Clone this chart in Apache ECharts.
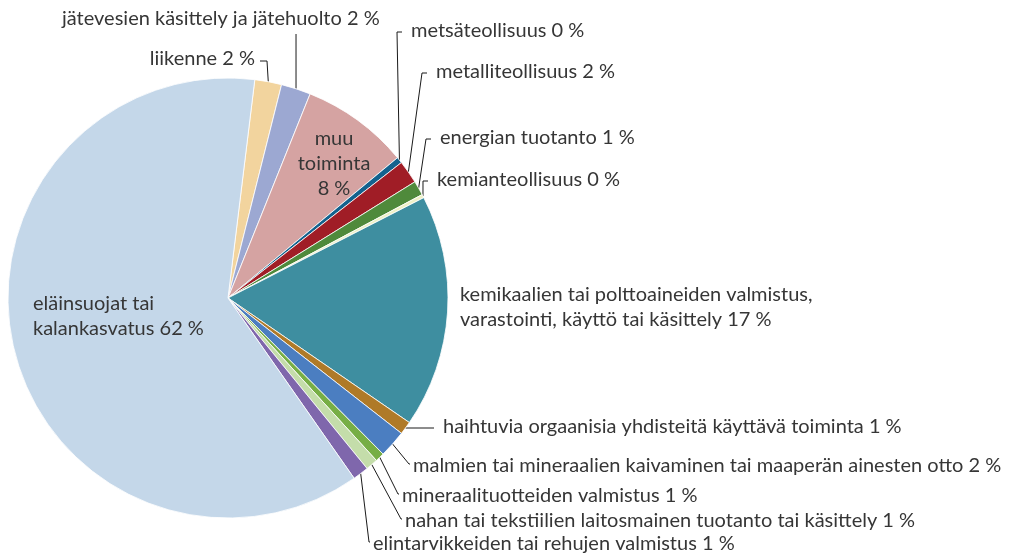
<!DOCTYPE html>
<html><head><meta charset="utf-8">
<script src="https://cdn.jsdelivr.net/npm/echarts@6/dist/echarts.min.js"></script>
<style>html,body{margin:0;padding:0;background:#fff}#c{width:1009px;height:557px}</style>
</head><body><div id="c"></div>
<script>
// Data (share of all facilities, %), clockwise order starting just right of 12 o'clock
const categories = [
  'liikenne',
  'jätevesien käsittely ja jätehuolto',
  'muu\ntoiminta',
  'metsäteollisuus',
  'metalliteollisuus',
  'energian tuotanto',
  'kemianteollisuus',
  'kemikaalien tai polttoaineiden valmistus,\nvarastointi, käyttö tai käsittely',
  'haihtuvia orgaanisia yhdisteitä käyttävä toiminta',
  'malmien tai mineraalien kaivaminen tai maaperän ainesten otto',
  'mineraalituotteiden valmistus',
  'nahan tai tekstiilien laitosmainen tuotanto tai käsittely',
  'elintarvikkeiden tai rehujen valmistus',
  'eläinsuojat tai\nkalankasvatus'
];
const shares = [1.97, 2.17, 7.9, 0.45, 1.7, 1.06, 0.25, 17.1, 0.97, 2.0, 0.67, 0.89, 1.17, 61.6];

// Styles and label layout (kept separate from data)
const colors = ['#F2D49E','#9CA8D2','#D5A3A2','#13628E','#A01D26','#4F8A3B','#EEF1C6',
                '#3E8EA0','#AF7A28','#4B7EC1','#77AE45','#C4DDAA','#7F67AC','#C4D7E9'];
const labelPlaces = [
  {x:255, y:59,  align:'right',  line:'right',  sep:' '},
  {x:62,  y:19,  align:'left',   line:'below',  sep:' '},
  {x:334, y:164, align:'center', line:'none',   sep:'\n'},
  {x:411, y:31,  align:'left',   line:'left',   sep:' '},
  {x:436, y:72,  align:'left',   line:'left',   sep:' '},
  {x:440, y:138, align:'left',   line:'left',   sep:' '},
  {x:437, y:180, align:'left',   line:'left',   sep:' '},
  {x:460, y:307, align:'left',   line:'none',   sep:' '},
  {x:443, y:427, align:'left',   line:'left',   sep:' '},
  {x:413, y:466, align:'left',   line:'direct', sep:' '},
  {x:402, y:496, align:'left',   line:'direct', sep:' '},
  {x:405, y:521, align:'left',   line:'direct', sep:' '},
  {x:373, y:544, align:'left',   line:'direct', sep:' '},
  {x:33,  y:316, align:'left',   line:'none',   sep:' '}
];
const CX = 228, CY = 298, R = 220, OFFSET = 7;
const total = shares.reduce((a, b) => a + b, 0);

function anchor(i) {
  let cum = 0;
  for (let k = 0; k < i; k++) cum += shares[k];
  const th = (OFFSET + 360 * (cum + shares[i] / 2) / total) * Math.PI / 180;
  return [CX + R * Math.sin(th), CY - R * Math.cos(th)];
}

const chart = echarts.init(document.getElementById('c'), null, {renderer: 'canvas'});
chart.setOption({
  backgroundColor: '#ffffff',
  animation: false,
  series: [{
    type: 'pie',
    center: [CX, CY],
    radius: R,
    startAngle: 90 - OFFSET,
    clockwise: true,
    avoidLabelOverlap: false,
    data: categories.map((n, i) => ({
      name: n, value: shares[i],
      itemStyle: {color: colors[i]},
      labelLine: {show: labelPlaces[i].line !== 'none'}
    })),
    itemStyle: {borderColor: '#ffffff', borderWidth: 0.8},
    label: {
      show: true,
      position: 'outside',
      fontFamily: 'Lato',
      fontSize: 20,
      lineHeight: 25,
      color: '#363636',
      formatter: p => p.name + labelPlaces[p.dataIndex].sep + Math.round(p.value / total * 100) + ' %'
    },
    labelLine: {show: true, lineStyle: {color: '#1a1a1a', width: 1}},
    labelLayout: function (p) {
      const i = p.dataIndex, L = labelPlaces[i];
      const a = anchor(i);
      let pts;
      if (L.line === 'left') pts = [a, [L.x - 14, L.y + 1], [L.x - 9, L.y + 1]];
      else if (L.line === 'direct') pts = [a, [L.x - 4, L.y - 2], [L.x - 3, L.y - 2]];
      else if (L.line === 'right') pts = [a, [L.x + 12, L.y + 2], [L.x + 5, L.y + 2]];
      else if (L.line === 'below') pts = [a, [a[0], L.y + 16], [a[0], L.y + 15]];
      const out = {x: L.x, y: L.y, align: L.align, verticalAlign: 'middle'};
      if (pts) out.labelLinePoints = pts;
      return out;
    }
  }]
});
</script></body></html>
